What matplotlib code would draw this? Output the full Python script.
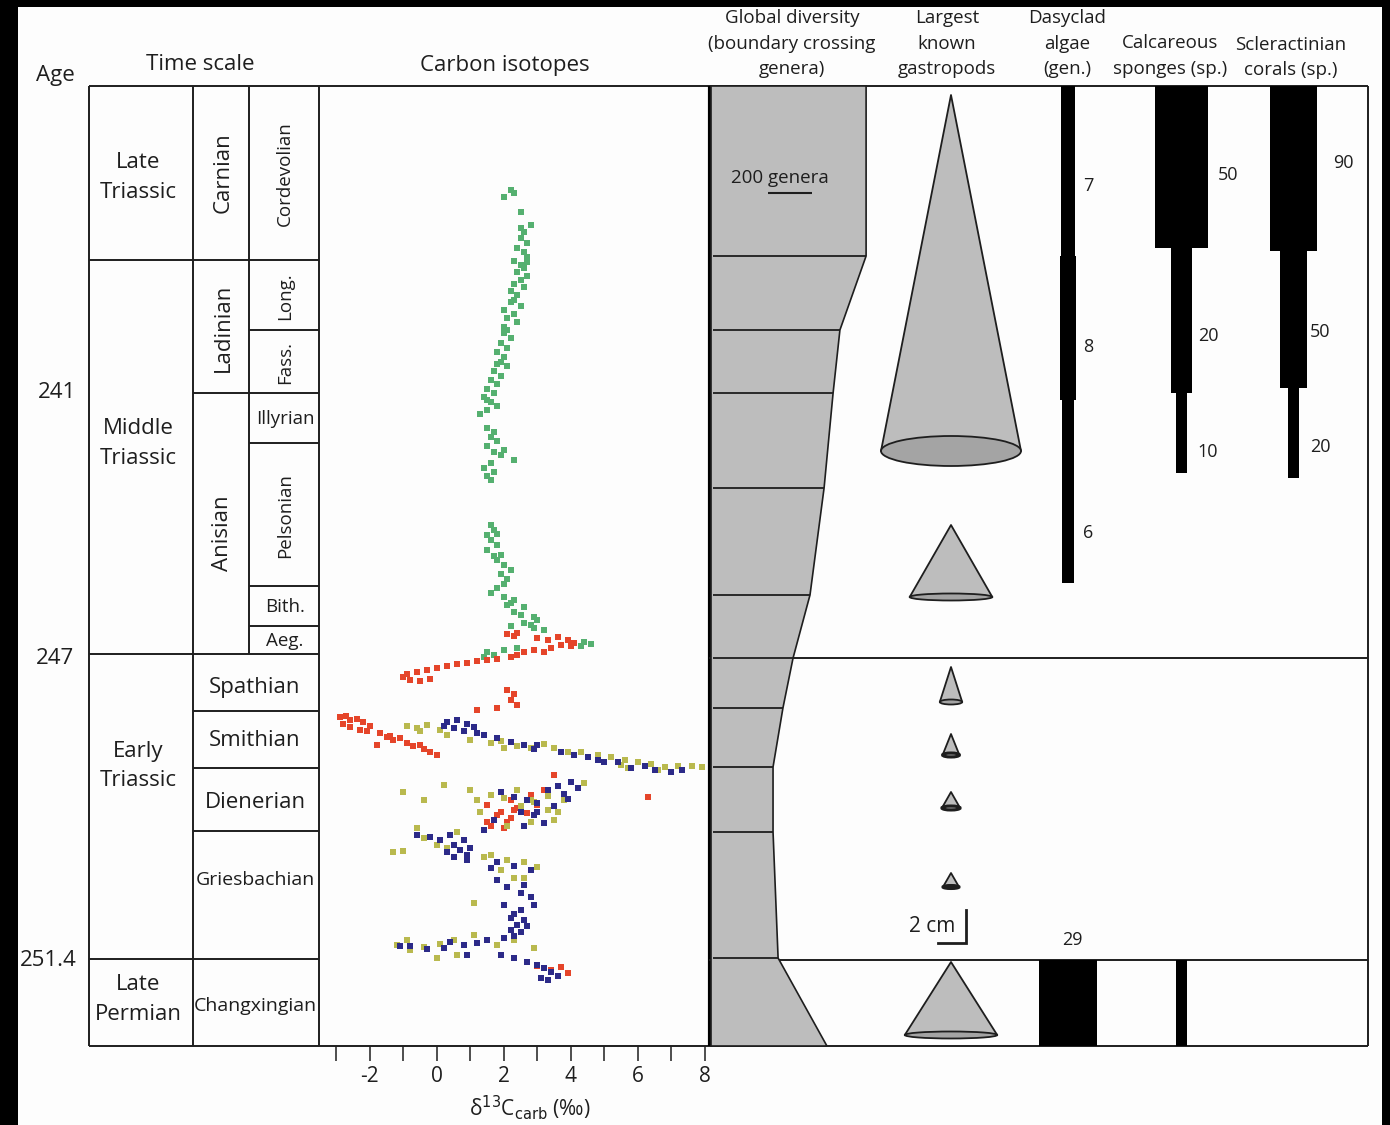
import matplotlib.pyplot as plt
from matplotlib.patches import Polygon, Rectangle, Ellipse

plt.rcParams["font.family"] = ["Open Sans", "DejaVu Sans"]

W, H = 1390, 1125
TOP, BASE = 86, 1046          # top / base of the stratigraphic column (level units)
INK = "#1e1e1e"
GRAY = "#bdbdbd"
GRAY_DARK = "#a4a4a4"

# ---- time scale -------------------------------------------------------------
AGE_LABELS = ["241", "247", "251.4"]
AGE_LEVELS = [393, 658, 960]
AGE_X = [57, 55, 48]

SERIES_NAMES = [("Late", "Triassic"), ("Middle", "Triassic"), ("Early", "Triassic"), ("Late", "Permian")]
SERIES_BOUNDS = [86, 260, 654, 959, 1046]
SERIES_LABEL_Y = [177, 443, 766, 999]

STAGE_NAMES = ["Carnian", "Ladinian", "Anisian"]
STAGE_BOUNDS = [86, 260, 393, 654]
STAGE_LABEL_Y = [173, 328, 533]

SUBSTAGE_NAMES = ["Cordevolian", "Long.", "Fass.", "Illyrian", "Pelsonian", "Bith.", "Aeg."]
SUBSTAGE_BOUNDS = [86, 260, 330, 393, 443, 586, 626, 654]
SUBSTAGE_ROT = [90, 90, 90, 0, 90, 0, 0]

EARLY_NAMES = ["Spathian", "Smithian", "Dienerian", "Griesbachian", "Changxingian"]
EARLY_BOUNDS = [654, 711, 768, 831, 959, 1046]
EARLY_LABEL_Y = [687, 740, 802, 880, 1006]
EARLY_SIZES = [16, 16, 16, 14, 14]

# ---- carbon isotopes (d13C permil, level) --------------------------------------
D13C_TICKS = [-2, 0, 2, 4, 6, 8]
D13C_TICK_LABELS = ["-2", "0", "2", "4", "6", "8"]
D13C_MINOR = [-3, -1, 1, 3, 5, 7]

GREEN_D13C = [2.2, 2.3, 2.0, 2.5, 2.8,
              2.6, 2.5, 2.7, 2.4, 2.6, 2.7, 2.3, 2.5, 2.6, 2.4, 2.7, 2.5, 2.3, 2.6, 2.2, 2.4,
              2.2, 2.5, 2.0, 2.3, 2.1, 2.4, 2.0,
              2.0, 2.2, 1.9, 2.1, 1.8, 2.0, 1.9, 2.1, 1.7, 1.9,
              1.6, 1.8, 1.5, 1.7, 1.4, 1.6, 1.8, 1.5, 1.3,
              1.5, 1.7, 1.6, 1.8, 1.5, 2.0, 1.9, 2.3, 1.6, 1.4, 1.7, 1.5, 1.6,
              1.6, 1.7, 1.5, 1.6, 1.8, 1.5, 1.9, 1.8, 2.0, 2.2, 1.9, 2.1, 2.0, 1.8,
              1.6, 2.0, 2.3, 2.1, 2.6, 2.3, 2.5, 2.9, 3.0, 2.6, 2.2, 2.9, 3.2,
              4.4, 4.6, 4.3,
              1.5, 1.7, 2.0, 2.4, 1.4,
              2.5, 2.7, 2.3, 2.1, 1.8, 1.5, 1.7, 1.8, 1.7, 2.2, 2.8]
GREEN_LEVEL = [190, 193, 197, 212, 225,
               232, 238, 243, 248, 252, 257, 261, 265, 268, 272, 276, 280, 284, 287, 291, 295,
               302, 306, 310, 314, 318, 322, 327,
               333, 338, 343, 348, 352, 357, 362, 366, 371, 376,
               380, 384, 389, 393, 397, 402, 406, 410, 414,
               428, 432, 437, 441, 446, 450, 455, 460, 463, 468, 472, 476, 480,
               525, 530, 535, 540, 545, 550, 555, 560, 565, 570, 574, 579, 584, 588,
               593, 597, 600, 605, 607, 612, 615, 617, 620, 623, 626, 628, 630,
               642, 644, 646,
               652, 655, 650, 648, 657,
               228, 262, 300, 330, 364, 400, 452, 534, 556, 603, 625]

RED_D13C = [2.1, 2.3, 2.4, 3.0, 3.3, 3.6, 3.9, 4.1, 4.0, 3.7, 3.4, 2.9, 3.2, 2.6, 2.4,
            2.2, 1.8, 1.5, 1.2, 0.9, 0.6, 0.3, 0.0, -0.3, -0.6, -0.9, -1.0, -0.8, -0.5, -0.2,
            2.1, 2.3, 2.2, 2.4, 1.2, 1.8,
            -2.9, -2.6, -2.8, -2.4, -2.2, -2.6, -2.3, -2.0, -1.7, -1.5, -1.3, -1.1, -0.9,
            -0.7, -0.4, -0.2, 0.0, -1.8,
            3.5, 3.2, 2.8, 2.2, 2.4, 2.7, 3.0, 1.9, 2.2, 1.5, 6.3,
            3.7, 3.4, 3.0, 3.9,
            1.5, 1.8, 2.1, 1.6, 2.3, 2.0, -2.7, -2.1, -1.4, -0.5]
RED_LEVEL = [634, 636, 633, 638, 640, 637, 640, 643, 646, 645, 648, 650, 652, 652, 655,
             657, 659, 660, 661, 663, 664, 666, 668, 670, 672, 674, 677, 680, 681, 679,
             690, 694, 700, 705, 710, 708,
             717, 720, 724, 719, 722, 727, 730, 726, 733, 737, 740, 738, 743,
             746, 749, 752, 755, 745,
             775, 790, 795, 800, 808, 813, 805, 812, 818, 822, 797,
             967, 970, 966, 973,
             805, 815, 822, 826, 810, 828, 716, 731, 736, 745]

YELLOW_D13C = [-0.9, -0.6, -0.3, 0.1, -0.5, 1.0, 1.6, 1.9, 2.4, 2.8, 3.2, 3.5, 4.3, 4.8,
               5.2, 5.6, 6.0, 6.4, 6.8, 7.2, 7.6, 7.9,
               -1.0, 0.2, 1.0, 1.6, 2.0, 2.4, 2.9, 3.3, 3.8, 4.4, 5.7, 1.3, 2.8, 3.5, 2.8, 3.3,
               -1.3, -1.0, -0.4, 0.0, 0.3, 0.6, -0.6, 1.6, 2.1, 2.6, 3.0, 1.9, 2.3, 1.1,
               -1.2, -0.8, -0.4, 0.1, 0.5, 1.1, 1.8, 2.3, 0.0,
               1.2, 2.5, 3.6, 2.1, -0.4, 1.4, 2.6, 0.6, -0.9, 2.9,
               0.3, 2.0, 3.9, 5.5, 6.6]
YELLOW_LEVEL = [726, 728, 725, 730, 731, 740, 743, 741, 746, 748, 744, 748, 752, 755,
                757, 760, 762, 764, 767, 766, 766, 767,
                792, 785, 790, 795, 798, 790, 802, 796, 800, 783, 768, 812, 822, 820, 800, 810,
                852, 851, 838, 845, 848, 832, 828, 855, 860, 862, 867, 870, 878, 903,
                945, 950, 947, 944, 940, 935, 945, 940, 958,
                800, 806, 812, 826, 800, 857, 878, 955, 940, 948,
                735, 748, 752, 765, 770]

BLUE_D13C = [0.3, 0.6, 0.9, 0.5, 1.1, 0.8, 1.4, 1.8, 2.2, 2.6, 3.0, 3.7, 4.1, 4.5, 5.0,
             5.4, 6.5, 7.0, 6.2, 5.8,
             1.9, 2.3, 2.7, 3.0, 3.3, 3.6, 4.0, 3.8, 4.2, 2.5, 1.7, 2.9, 3.2,
             -0.6, -0.2, 0.4, 0.8, 0.5, 0.7, 0.9, 0.5, 1.0, 1.8, 2.3, 2.8, 1.8, 2.1, 2.5,
             2.8, 2.0, 2.5, 2.2, 2.6, 2.4, 2.2, 2.5, 2.3, 2.7,
             1.5, 0.8, 0.2, -0.3, -0.8, -1.1, 0.9, 1.9, 2.3, 2.7, 3.0, 3.2, 3.4, 3.6, 3.3, 3.1,
             3.5, 3.9, 2.6, 1.4, 3.0,
             0.1, 0.3, 0.9, 1.6, 2.6, 2.9, 2.3, 2.0, 1.2, 0.4,
             0.2, 1.2, 2.9, 4.8, 7.3]
BLUE_LEVEL = [722, 720, 724, 728, 727, 731, 735, 738, 742, 745, 745, 752, 755, 757, 762,
              762, 770, 772, 766, 768,
              792, 797, 800, 803, 790, 786, 782, 794, 788, 812, 820, 815, 823,
              835, 837, 835, 840, 845, 850, 855, 857, 848, 862, 866, 870, 880, 887, 893,
              897, 905, 910, 918, 920, 925, 930, 932, 936, 926,
              940, 945, 948, 949, 946, 946, 955, 955, 958, 962, 965, 968, 972, 976, 980, 978,
              806, 799, 826, 830, 812,
              840, 852, 860, 868, 885, 905, 914, 938, 943, 942,
              726, 733, 749, 760, 770]

# ---- global diversity (boundary crossing genera) ----------------------------
DIV_LEVEL = [86, 256, 330, 393, 488, 595, 658, 708, 767, 832, 958, 1046]
DIV_GENERA = [705, 705, 586, 555, 514, 450, 373, 327, 282, 282, 305, 527]
DIV_SCALE_GENERA = 200

# ---- largest gastropods: apex level, base level, base width (cm), rim height -----
GASTRO_APEX = [95, 525, 667, 734, 792, 873, 962]
GASTRO_BASE = [451, 597, 702, 755, 808, 887, 1035]
GASTRO_WIDTH = [10.0, 5.9, 1.6, 1.2, 1.3, 1.15, 6.6]
GASTRO_RIM = [30, 7, 5, 4, 4, 3, 7]
GASTRO_SCALE_CM = 2

# ---- ranges: top level, base level, count -------------------------------------
ALGAE_TOP = [86, 256, 400, 960]
ALGAE_BASE = [256, 400, 583, 1046]
ALGAE_GEN = [7, 8, 6, 29]

SPONGE_TOP = [86, 248, 393, 960]
SPONGE_BASE = [248, 393, 473, 1046]
SPONGE_SP = [50, 20, 10, 10]

CORAL_TOP = [86, 251, 388]
CORAL_BASE = [251, 388, 478]
CORAL_SP = [90, 50, 20]

BAR_LABELS = ["7", "8", "6", "29", "50", "20", "10", "90", "50", "20"]
BAR_LABEL_X = [1088, 1088, 1088, 1072, 1228, 1208, 1208, 1343, 1320, 1320]
BAR_LABEL_Y = [186, 347, 533, 940, 175, 336, 452, 163, 332, 447]

HEADERS = [
    (792, ["Global diversity", "(boundary crossing", "genera)"], [18, 44, 69]),
    (947, ["Largest", "known", "gastropods"], [18, 44, 69]),
    (1067, ["Dasyclad", "algae", "(gen.)"], [18, 44, 69]),
    (1170, ["Calcareous", "sponges (sp.)"], [43, 69]),
    (1291, ["Scleractinian", "corals (sp.)"], [45, 70]),
]


fig = plt.figure(figsize=(W / 100, H / 100), dpi=100, facecolor="black")
ax = fig.add_axes([0, 0, 1, 1])
ax.set_xlim(0, W)
ax.set_ylim(H, 0)
ax.axis("off")
ax.add_patch(Rectangle((18, 7), 1364, H - 7, facecolor="#fdfdfd", edgecolor="none"))


def panel(x0, x1, xlim):
    a = fig.add_axes([x0 / W, 1 - BASE / H, (x1 - x0) / W, (BASE - TOP) / H])
    a.set_xlim(*xlim)
    a.set_ylim(BASE, TOP)
    a.patch.set_visible(False)
    a.axis("off")
    return a


def txt(x, y, s, size=16, **kw):
    ax.text(x, y, s, ha="center", va="center", fontsize=size, color=INK, **kw)


lw = 1.4
# frame lines of the table
ax.hlines([TOP, BASE], 89, 1368, color=INK, lw=lw)
ax.vlines([89, 193, 319, 1368], TOP, BASE, color=INK, lw=lw)
ax.vlines(249, TOP, 654, color=INK, lw=lw)
ax.vlines(709.5, TOP, BASE, color="black", lw=3.0)
ax.hlines(SERIES_BOUNDS[1:-1], 89, 193, color=INK, lw=lw)
ax.hlines(STAGE_BOUNDS[1:-1], 193, 249, color=INK, lw=lw)
ax.hlines(SUBSTAGE_BOUNDS[1:-1], 249, 319, color=INK, lw=lw)
ax.hlines(EARLY_BOUNDS[:-1], 193, 319, color=INK, lw=lw)
ax.hlines([658, 960], 709, 1368, color=INK, lw=lw)

# header texts
txt(55, 75, "Age")
txt(200, 65, "Time scale")
txt(505, 65, "Carbon isotopes")
for x, lines, ys in HEADERS:
    for line, y in zip(lines, ys):
        txt(x, y, line, size=13.5)

for lab, lev, x in zip(AGE_LABELS, AGE_LEVELS, AGE_X):
    txt(x, lev, lab)

for (l1, l2), y in zip(SERIES_NAMES, SERIES_LABEL_Y):
    txt(138, y - 15, l1)
    txt(138, y + 15, l2)

for name, y in zip(STAGE_NAMES, STAGE_LABEL_Y):
    txt(223, y, name, rotation=90)

for i, name in enumerate(SUBSTAGE_NAMES):
    y = (SUBSTAGE_BOUNDS[i] + SUBSTAGE_BOUNDS[i + 1]) / 2
    txt(285, y + 1, name, size=13.5, rotation=SUBSTAGE_ROT[i])

for name, y, size in zip(EARLY_NAMES, EARLY_LABEL_Y, EARLY_SIZES):
    txt(255, y, name, size=size)

# carbon isotopes
axc = fig.add_axes([319 / W, 1 - BASE / H, (708 - 319) / W, (BASE - TOP) / H])
axc.set_xlim(-3.52, 8.09)
axc.set_ylim(BASE, TOP)
axc.patch.set_visible(False)
for s in axc.spines.values():
    s.set_visible(False)
axc.set_yticks([])
axc.set_xticks(D13C_TICKS)
axc.set_xticklabels(D13C_TICK_LABELS)
axc.set_xticks(D13C_MINOR, minor=True)
axc.tick_params(axis="x", which="both", direction="out", length=10.5, width=1.1,
                color=INK, pad=4, labelsize=15, labelcolor=INK)
kw = dict(s=14, marker="s", linewidths=0, clip_on=False)
axc.scatter(GREEN_D13C, GREEN_LEVEL, color="#55b070", **kw)
axc.scatter(RED_D13C, RED_LEVEL, color="#e5452a", **kw)
axc.scatter(YELLOW_D13C, YELLOW_LEVEL, color="#b9b94e", **kw)
axc.scatter(BLUE_D13C, BLUE_LEVEL, color="#2c2a88", **kw)
txt(530, 1108, "δ$^{13}$C$_{\\rm carb}$ (‰)", size=15)

# global diversity (0.22 px per genus)
axd = panel(711, 900, (0, 189 / 0.22))
verts = [(0, DIV_LEVEL[0])] + list(zip(DIV_GENERA, DIV_LEVEL)) + [(0, DIV_LEVEL[-1])]
axd.add_patch(Polygon(verts, closed=True, facecolor=GRAY, edgecolor=INK, lw=1.2, clip_on=False))
for lev, g in zip(DIV_LEVEL[1:-1], DIV_GENERA[1:-1]):
    axd.hlines(lev, 8, g, color=INK, lw=1.3)
axd.hlines(193, 259, 259 + DIV_SCALE_GENERA, color=INK, lw=1.5)
axd.text(314, 178, "200 genera", ha="center", va="center", fontsize=13.5, color=INK)

# gastropods (14 px per cm)
axg = panel(870, 1032, (-81 / 14, 81 / 14))
for ap, bs, wd, rim in zip(GASTRO_APEX, GASTRO_BASE, GASTRO_WIDTH, GASTRO_RIM):
    axg.add_patch(Polygon([(0, ap), (wd / 2, bs), (-wd / 2, bs)], closed=True,
                          facecolor=GRAY, edgecolor=INK, lw=1.3, clip_on=False, joinstyle="round"))
    axg.add_patch(Ellipse((0, bs), wd, rim, facecolor=GRAY_DARK, edgecolor=INK,
                          lw=1.3 if rim > 4 else 2.2, clip_on=False))
x0 = (938 - 951) / 14
axg.plot([x0, x0 + GASTRO_SCALE_CM, x0 + GASTRO_SCALE_CM], [943, 943, 910],
         color=INK, lw=2.0, solid_joinstyle="miter", clip_on=False)
txt(932, 926, "2 cm", size=15)

# dasyclad algae (2 px per genus), sponges (1.05 px/sp), corals (0.525 px/sp)
for cx, scale, tops, bases, vals in [
    (1068, 2.0, ALGAE_TOP, ALGAE_BASE, ALGAE_GEN),
    (1181.5, 1.05, SPONGE_TOP, SPONGE_BASE, SPONGE_SP),
    (1293.5, 0.525, CORAL_TOP, CORAL_BASE, CORAL_SP),
]:
    half = 45 / scale
    axr = panel(cx - 45, cx + 45, (-half, half))
    for t, b, v in zip(tops, bases, vals):
        axr.barh(t, v, height=b - t, left=-v / 2, align="edge", color="black",
                 edgecolor="none", clip_on=False)

for lab, x, y in zip(BAR_LABELS, BAR_LABEL_X, BAR_LABEL_Y):
    txt(x, y, lab, size=13)

fig.savefig("out.png", dpi=100, facecolor=fig.get_facecolor())
